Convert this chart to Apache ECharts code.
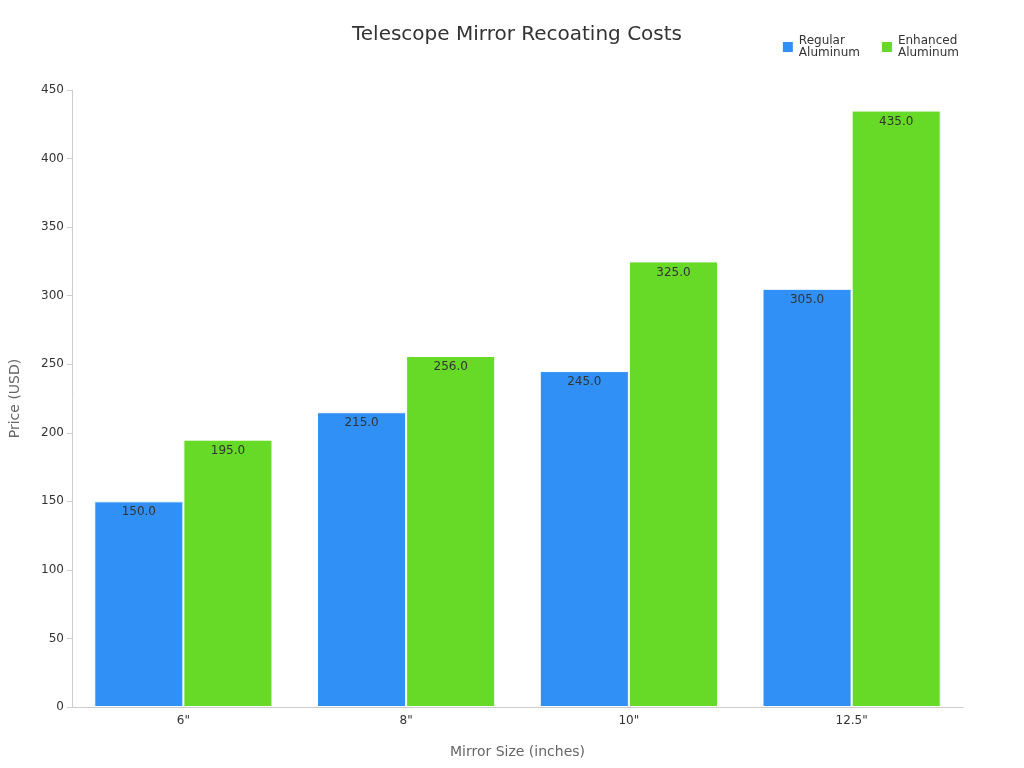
<!DOCTYPE html>
<html>
<head>
<meta charset="utf-8">
<script src="https://cdn.jsdelivr.net/npm/echarts@6/dist/echarts.min.js"></script>
<style>html,body{margin:0;padding:0;background:#fff}#chart{width:1024px;height:768px}</style>
</head>
<body>
<div id="chart"></div>
<script>
var sizes = ['6"', '8"', '10"', '12.5"'];
var regular = [150, 215, 245, 305];
var enhanced = [195, 256, 325, 435];

var myChart = echarts.init(document.getElementById("chart"));
var labelStyle = {
  show: true,
  position: "insideTop",
  color: "#333",
  fontSize: 12,
  formatter: function (p) { return p.value.toFixed(1); },
};
var option = {
  textStyle: { fontFamily: "DejaVu Sans" },
  title: {
    text: "Telescope Mirror Recoating Costs",
    left: 512,
    textAlign: "center",
    top: 20,
    textStyle: { fontSize: 20, fontWeight: "normal", color: "#333" },
  },
  legend: {
    data: ["Regular\nAluminum", "Enhanced\nAluminum"],
    right: 60,
    top: 30,
    itemWidth: 12,
    itemHeight: 12,
    itemGap: 20,
    icon: "rect",
    textStyle: { fontSize: 12, color: "#333" },
  },
  grid: { left: 68, right: 61, top: 90, bottom: 61 },
  xAxis: {
    type: "category",
    data: sizes,
    name: "Mirror Size (inches)",
    nameLocation: "middle",
    nameGap: 38,
    nameTextStyle: { fontSize: 14, color: "#666" },
    axisTick: { show: false },
    axisLine: { lineStyle: { color: "#ccc" } },
    axisLabel: { color: "#333", fontSize: 12 },
  },
  yAxis: {
    type: "value",
    min: 0,
    max: 450,
    interval: 50,
    name: "Price (USD)",
    nameLocation: "middle",
    nameGap: 50,
    nameTextStyle: { fontSize: 14, color: "#666" },
    axisLine: { show: true, lineStyle: { color: "#ccc" } },
    axisTick: { show: true, lineStyle: { color: "#ccc" } },
    axisLabel: { color: "#333", fontSize: 12 },
    splitLine: { show: false },
  },
  series: [
    {
      name: "Regular\nAluminum",
      type: "bar",
      data: regular,
      barGap: "0%",
      barCategoryGap: "20%",
      itemStyle: { color: "#3190F5", borderColor: "#fff", borderWidth: 1 },
      label: labelStyle,
    },
    {
      name: "Enhanced\nAluminum",
      type: "bar",
      data: enhanced,
      itemStyle: { color: "#66DA26", borderColor: "#fff", borderWidth: 1 },
      label: labelStyle,
    },
  ],
};
myChart.setOption(option);
</script>
</body>
</html>
